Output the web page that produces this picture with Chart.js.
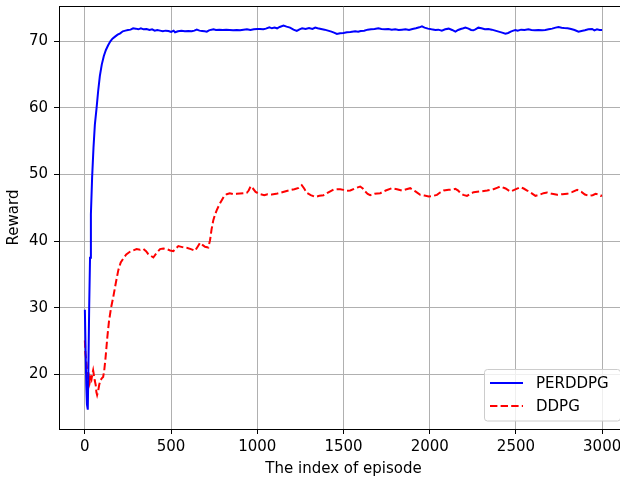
<!DOCTYPE html>
<html>

<head>
  <script src="https://cdn.jsdelivr.net/npm/chart.js@4/dist/chart.umd.min.js"></script>
  <style>
    html, body { margin: 0; padding: 0; background: #fff; overflow: hidden; }
    #wrap { width: 620px; height: 481px; overflow: hidden; position: relative; }
    #myChart { display: block; position: absolute; left: 0; top: 0; }
  </style>
</head>

<body>
  <div id="wrap">
    <canvas id="myChart" width="628" height="481"></canvas>
  </div>
  <script type="text/javascript">
    // tick labels
    var xTicks = [0, 500, 1000, 1500, 2000, 2500, 3000];
    var yTicks = [20, 30, 40, 50, 60, 70];

    // PERDDPG
    var perEpisode = [0, 4, 8, 12, 17, 21, 25, 30, 35, 42, 50, 58, 68, 77, 87, 98, 110, 122, 135, 148,
      160, 175, 190, 205, 220, 235, 250, 265, 280, 295, 310, 325, 340, 358, 375, 390, 405, 420, 436, 452,
      468, 485, 500, 515, 523, 540, 560, 580, 600, 620, 635, 649, 665, 680, 695, 707, 720, 735, 746, 760,
      780, 800, 820, 840, 860, 881, 900, 920, 940, 960, 980, 1000, 1016, 1035, 1050, 1070, 1085, 1100, 1115, 1130,
      1152, 1170, 1190, 1210, 1229, 1245, 1260, 1280, 1300, 1320, 1336, 1350, 1370, 1390, 1410, 1430, 1445, 1462, 1480, 1500,
      1520, 1540, 1568, 1585, 1600, 1620, 1640, 1660, 1680, 1702, 1720, 1740, 1760, 1780, 1800, 1820, 1839, 1860, 1880, 1900,
      1920, 1940, 1955, 1970, 1990, 2010, 2033, 2050, 2070, 2090, 2110, 2130, 2149, 2165, 2180, 2195, 2207, 2225, 2240, 2253,
      2265, 2282, 2300, 2320, 2340, 2360, 2380, 2400, 2420, 2439, 2455, 2470, 2485, 2497, 2510, 2530, 2550, 2572, 2590, 2610,
      2630, 2652, 2670, 2690, 2710, 2730, 2747, 2765, 2780, 2800, 2820, 2840, 2863, 2880, 2900, 2920, 2942, 2955, 2970, 2985, 3000];
    var perReward = [29.7, 24, 18.5, 15.5, 14.7, 22, 30, 37.5, 44, 49.5, 54, 57.5, 60, 62.5, 64.8, 66.5, 67.8, 68.7, 69.4, 70.0,
      70.4, 70.7, 71.0, 71.2, 71.5, 71.6, 71.7, 71.75, 71.95, 71.9, 71.8, 71.95, 71.8, 71.85, 71.7, 71.8, 71.6, 71.7, 71.6, 71.5,
      71.6, 71.55, 71.4, 71.6, 71.35, 71.5, 71.6, 71.5, 71.55, 71.5, 71.6, 71.75, 71.6, 71.55, 71.5, 71.45, 71.65, 71.75, 71.8, 71.7,
      71.75, 71.7, 71.75, 71.7, 71.65, 71.7, 71.65, 71.75, 71.8, 71.7, 71.8, 71.85, 71.85, 71.8, 71.9, 72.1, 71.95, 72.05, 71.95, 72.15,
      72.35, 72.2, 72.05, 71.75, 71.55, 71.8, 71.95, 71.85, 72.0, 71.85, 72.05, 71.95, 71.85, 71.75, 71.6, 71.45, 71.3, 71.1, 71.2, 71.25,
      71.35, 71.4, 71.5, 71.45, 71.55, 71.6, 71.75, 71.8, 71.85, 71.95, 71.85, 71.8, 71.85, 71.75, 71.8, 71.7, 71.75, 71.8, 71.7, 71.85,
      71.95, 72.1, 72.25, 72.05, 71.9, 71.8, 71.7, 71.75, 71.6, 71.8, 71.9, 71.7, 71.45, 71.7, 71.85, 71.95, 72.05, 71.9, 71.7, 71.65,
      71.8, 72.05, 71.95, 71.8, 71.85, 71.75, 71.6, 71.45, 71.3, 71.15, 71.25, 71.45, 71.6, 71.7, 71.6, 71.75, 71.7, 71.8, 71.7, 71.65,
      71.7, 71.65, 71.7, 71.8, 71.9, 72.05, 72.15, 72.05, 72.0, 71.95, 71.85, 71.7, 71.45, 71.55, 71.65, 71.8, 71.85, 71.65, 71.8, 71.7, 71.7];

    // DDPG
    var ddpgEpisode = [0, 3, 6, 10, 15, 19, 24, 28, 33, 38, 43, 48, 53, 58, 63, 67, 71, 77, 83, 90,
      98, 106, 112, 120, 130, 140, 152, 165, 180, 194, 208, 223, 240, 261, 280, 300, 320, 339, 355, 368,
      383, 397, 415, 436, 455, 474, 495, 513, 528, 542, 565, 590, 615, 639, 655, 668, 684, 697, 716, 726,
      735, 745, 755, 765, 780, 794, 808, 823, 840, 861, 880, 900, 920, 939, 950, 962, 975, 990, 1016, 1040,
      1060, 1084, 1110, 1132, 1160, 1190, 1215, 1240, 1258, 1272, 1287, 1310, 1336, 1360, 1384, 1410, 1442, 1481, 1500, 1520,
      1539, 1565, 1597, 1612, 1626, 1640, 1655, 1680, 1713, 1745, 1781, 1810, 1839, 1865, 1887, 1915, 1945, 1970, 1994, 2020,
      2042, 2060, 2081, 2110, 2130, 2149, 2165, 2178, 2195, 2216, 2235, 2255, 2290, 2333, 2370, 2390, 2410, 2440, 2468, 2500,
      2526, 2545, 2565, 2590, 2613, 2640, 2660, 2681, 2710, 2739, 2770, 2797, 2825, 2855, 2880, 2900, 2923, 2945, 2962, 2978, 2991, 3000];
    var ddpgReward = [25.1, 23.2, 22.6, 21.5, 20.0, 19.1, 19.6, 18.8, 19.5, 19.2, 20.0, 20.6, 19.8, 19.0, 18.4, 17.3, 16.9, 17.5, 18.4, 19.1,
      19.4, 19.6, 20.5, 22.5, 25.5, 28.0, 30.0, 31.65, 33.8, 35.65, 36.8, 37.4, 38.0, 38.4, 38.6, 38.8, 38.7, 38.85, 38.5, 38.05,
      37.8, 37.55, 38.2, 38.8, 38.9, 38.8, 38.6, 38.5, 38.9, 39.25, 39.1, 39.0, 38.8, 38.55, 39.2, 39.75, 39.4, 39.15, 39.05, 40.15,
      41.8, 43.15, 44.0, 44.65, 45.5, 46.15, 46.8, 47.05, 47.2, 47.05, 47.1, 47.15, 47.2, 47.25, 47.6, 48.25, 47.9, 47.4, 47.05, 46.9,
      47.05, 47.0, 47.1, 47.25, 47.45, 47.65, 47.8, 48.0, 48.4, 47.9, 47.25, 46.9, 46.65, 46.8, 46.9, 47.3, 47.75, 47.8, 47.7, 47.55,
      47.6, 47.9, 48.2, 47.9, 47.45, 47.1, 46.9, 47.1, 47.2, 47.6, 47.95, 47.8, 47.6, 47.8, 47.95, 47.5, 46.95, 46.85, 46.7, 46.8,
      46.95, 47.3, 47.6, 47.7, 47.75, 47.85, 47.6, 47.2, 46.95, 46.8, 47.1, 47.35, 47.45, 47.6, 47.8, 48.0, 48.2, 47.9, 47.45, 47.8,
      48.1, 47.9, 47.6, 47.2, 46.8, 47.0, 47.2, 47.3, 47.1, 46.95, 47.05, 47.1, 47.35, 47.7, 47.4, 47.0, 46.8, 46.9, 47.1, 47.0, 46.8, 46.85];

    function pairs(xs, ys) {
      return xs.map(function(x, i) { return { x: x, y: ys[i] }; });
    }

    var FONT = 'DejaVu Sans';
    var FSIZE = 15;

    // top spine + legend (matplotlib style)
    var frame = {
      id: 'frame',
      afterDraw: function(chart) {
        var ctx = chart.ctx;
        var a = chart.chartArea;
        ctx.save();
        ctx.strokeStyle = '#000';
        ctx.lineWidth = 1;
        ctx.beginPath();
        ctx.moveTo(a.left, a.top + 0.5);
        ctx.lineTo(a.right, a.top + 0.5);
        ctx.stroke();

        // legend box
        var bx = 484.5, by = 369.5, bw = 136, bh = 51.5, r = 3;
        ctx.fillStyle = 'rgba(255,255,255,0.8)';
        ctx.strokeStyle = '#cccccc';
        ctx.beginPath();
        ctx.moveTo(bx + r, by);
        ctx.lineTo(bx + bw - r, by);
        ctx.arcTo(bx + bw, by, bx + bw, by + r, r);
        ctx.lineTo(bx + bw, by + bh - r);
        ctx.arcTo(bx + bw, by + bh, bx + bw - r, by + bh, r);
        ctx.lineTo(bx + r, by + bh);
        ctx.arcTo(bx, by + bh, bx, by + bh - r, r);
        ctx.lineTo(bx, by + r);
        ctx.arcTo(bx, by, bx + r, by, r);
        ctx.closePath();
        ctx.fill();
        ctx.stroke();

        var rows = [383, 406];
        chart.data.datasets.forEach(function(ds, i) {
          ctx.strokeStyle = ds.borderColor;
          ctx.lineWidth = ds.borderWidth;
          ctx.setLineDash(ds.borderDash || []);
          ctx.beginPath();
          ctx.moveTo(490, rows[i]);
          ctx.lineTo(523, rows[i]);
          ctx.stroke();
          ctx.setLineDash([]);
          ctx.fillStyle = '#000';
          ctx.font = FSIZE + 'px "' + FONT + '"';
          ctx.textAlign = 'left';
          ctx.textBaseline = 'middle';
          ctx.fillText(ds.label, 536, rows[i] + 1);
        });
        ctx.restore();
      }
    };

    function plain(v) { return String(v); }

    var ctx = document.getElementById('myChart').getContext('2d');
    var chart = new Chart(ctx, {
      type: 'line',
      data: {
        datasets: [{
          label: 'PERDDPG',
          data: pairs(perEpisode, perReward),
          borderColor: '#0000ff',
          borderWidth: 2,
          pointRadius: 0,
          tension: 0,
          fill: false
        }, {
          label: 'DDPG',
          data: pairs(ddpgEpisode, ddpgReward),
          borderColor: '#ff0000',
          borderWidth: 2,
          borderDash: [7.4, 3.2],
          pointRadius: 0,
          tension: 0,
          fill: false
        }]
      },
      options: {
        responsive: false,
        animation: false,
        devicePixelRatio: 1,
        layout: { padding: { top: 6, left: 0, right: 0, bottom: 0 } },
        plugins: {
          legend: { display: false },
          tooltip: { enabled: false }
        },
        scales: {
          x: {
            type: 'linear',
            min: -150,
            max: 3150,
            afterBuildTicks: function(s) { s.ticks = xTicks.map(function(v) { return { value: v }; }); },
            afterFit: function(s) { s.height = 52; s.paddingLeft = 0; s.paddingRight = 0; },
            grid: { color: '#b0b0b0', lineWidth: 1, tickLength: 5, tickColor: '#000' },
            border: { display: true, color: '#000', width: 1 },
            ticks: { color: '#000', font: { family: FONT, size: FSIZE }, padding: 4, maxRotation: 0, callback: plain },
            title: { display: true, text: 'The index of episode', color: '#000', font: { family: FONT, size: FSIZE }, padding: { top: 0, bottom: 2.5 } }
          },
          y: {
            min: 11.8,
            max: 75.3,
            afterBuildTicks: function(s) { s.ticks = yTicks.map(function(v) { return { value: v }; }); },
            afterFit: function(s) { s.width = 59; s.paddingTop = 0; s.paddingBottom = 0; },
            grid: { color: '#b0b0b0', lineWidth: 1, tickLength: 5, tickColor: '#000' },
            border: { display: true, color: '#000', width: 1 },
            ticks: { color: '#000', font: { family: FONT, size: FSIZE }, padding: 6, callback: plain },
            title: { display: true, text: 'Reward', color: '#000', font: { family: FONT, size: FSIZE }, padding: { top: 5, bottom: 0 } }
          }
        }
      },
      plugins: [frame]
    });
  </script>
</body>

</html>
